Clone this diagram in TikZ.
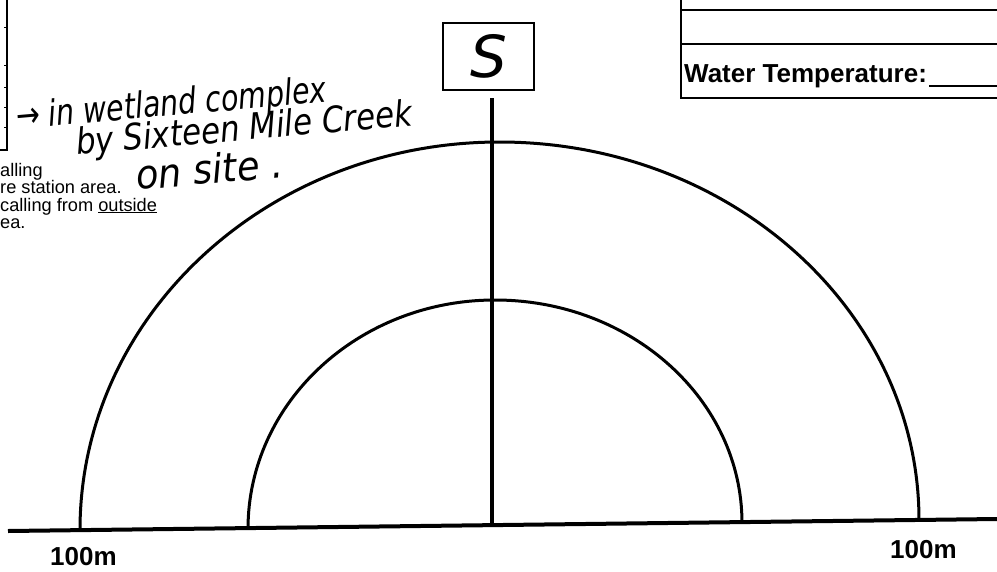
\documentclass[tikz,border=0pt]{standalone}
\usepackage{fontspec}
\setmainfont{Liberation Sans}
\newfontfamily\handfont{DejaVu Sans}
\usetikzlibrary{positioning}

\begin{document}
\begin{tikzpicture}[
  x=1pt,y=-1pt,
  ln/.style={line width=3pt},
  frm/.style={line width=1.5pt},
  lbl/.style={font=\bfseries\fontsize{26}{30}\selectfont,inner sep=0pt,anchor=base west},
  note/.style={font=\fontsize{18.2}{15}\selectfont,inner sep=0pt,anchor=base west},
  hw/.style={font=\handfont\itshape\fontsize{36}{38}\selectfont,inner sep=0pt,anchor=base west,rotate=5}
]
\useasboundingbox (0,0) rectangle (997,571);
% cut-off edge of the table on the left
\draw[frm] (7,0) -- (7,150) -- (0,150);
\foreach \y in {27,65,87,107,127} \draw[line width=0.8pt] (4,\y) -- (7,\y);
% form box top right
\draw[frm] (681,0) -- (681,98) -- (997,98);
\draw[frm] (681,10) -- (997,10);
\draw[frm] (681,44) -- (997,44);
\node[lbl] (wt) at (684,82) {Water Temperature:};
\draw[frm] ([xshift=2pt,yshift=-4pt]wt.base east) -- (997,86);
% notes
\node[note] (n1) at (0,176) {alling};
\node[note] (n2) at (0,193.5) {re station area.};
\node[note] (n3) at (0,211) {calling from \underline{outside}};
\node[note] (n4) at (0,228.5) {ea.};
% handwriting
\node[hw] (h1) at (17,129) {\scalebox{0.79}[1]{→ in wetland complex}};
\node[hw] (h2) at (77,155) {\scalebox{0.86}[1]{by Sixteen Mile Creek}};
\node[hw,font=\handfont\itshape\fontsize{40}{42}\selectfont] (h3) at (137,190) {\scalebox{0.92}[1]{on site .}};
% station
\node[draw,line width=2pt,minimum width=91pt,minimum height=67pt,inner sep=0pt] (s) at (488.5,56.5)
  {\handfont\itshape\fontsize{58}{58}\selectfont S};
\coordinate (gl) at (8,531);
\coordinate (gr) at (997,519);
\coordinate (gm) at (492,525);
\draw[line width=4pt] (gl) -- (gr);
\draw[line width=3.5pt] ([xshift=3.5pt,yshift=-7pt]s.south) -- (gm);
% 100m and 50m arcs
\draw[ln] (80,530) arc[start angle=180,end angle=90,x radius=419.5pt,y radius=388pt]
  arc[start angle=90,end angle=0,x radius=419.5pt,y radius=378pt];
\draw[ln] (248,529) arc[start angle=180,end angle=90,x radius=247pt,y radius=229pt]
  arc[start angle=90,end angle=0,x radius=247pt,y radius=223pt];
\node[lbl] (l100) at (50,565) {100m};
\node[lbl] (r100) at (890,558) {100m};
\end{tikzpicture}
\end{document}
